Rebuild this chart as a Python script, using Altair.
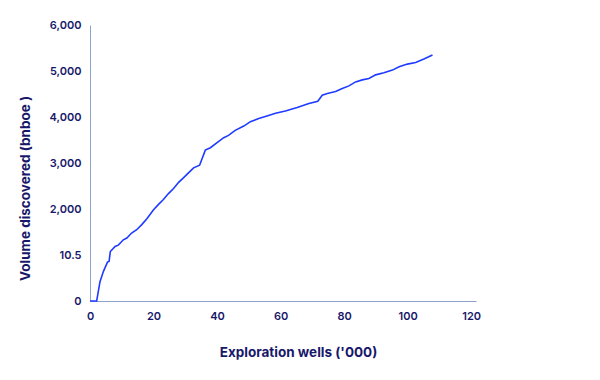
import altair as alt
import pandas as pd

wells = [0, 2.1, 3.15, 4.2, 5.5, 6.0, 6.4, 7.9, 8.9, 10.5, 11.6, 13.1, 14.7, 16.3, 17.9,
         20.0, 21.5, 23.1, 24.7, 26.3, 27.9, 29.4, 31.0, 32.6, 34.5, 36.3, 37.9, 40.0,
         42.1, 43.6, 45.7, 48.4, 50.5, 53.1, 55.7, 58.4, 61.5, 65.2, 68.9, 71.7, 73.1,
         74.7, 77.3, 79.4, 81.5, 83.6, 85.7, 87.8, 89.9, 92.5, 95.2, 97.3, 99.9, 102.5,
         105.1, 107.8]
volume = [0, 0, 420, 640, 845, 860, 1075, 1185, 1215, 1330, 1370, 1477, 1550, 1660, 1790,
          1985, 2095, 2205, 2335, 2445, 2580, 2677, 2786, 2895, 2953, 3280, 3332, 3441,
          3550, 3600, 3709, 3803, 3899, 3965, 4022, 4080, 4130, 4205, 4292, 4342, 4473,
          4510, 4553, 4619, 4676, 4763, 4807, 4837, 4916, 4960, 5019, 5091, 5150, 5186,
          5259, 5346]

y_tick_values = [0, 1000, 2000, 3000, 4000, 5000, 6000]
y_tick_labels = ["0", "10.5", "2,000", "3,000", "4,000", "5,000", "6,000"]
x_tick_values = [0, 20, 40, 60, 80, 100, 120]

df = pd.DataFrame({"wells": wells, "volume": volume})

label_expr = " : ".join(
    f"datum.value == {v} ? '{l}'" for v, l in zip(y_tick_values, y_tick_labels)
) + " : ''"

navy = "#18186a"
axis_col = "#8ea3c9"

chart = alt.Chart(df).mark_line(color="#1f3bff", strokeWidth=1.6).encode(
    x=alt.X("wells:Q",
            scale=alt.Scale(domain=[0, 121.5], nice=False),
            axis=alt.Axis(title="Exploration wells ('000)", values=x_tick_values,
                          titleX=208, titleY=44)),
    y=alt.Y("volume:Q",
            scale=alt.Scale(domain=[0, 6000], nice=False),
            axis=alt.Axis(title="Volume discovered (bnboe )", values=y_tick_values,
                          labelExpr=label_expr, titleX=-58, titleY=163)),
).properties(
    width=386, height=276,
    autosize=alt.AutoSizeParams(type="none"),
    padding={"left": 82, "top": 17, "right": 116, "bottom": 71},
).configure_view(stroke=None).configure_axis(
    grid=False, ticks=False, domainColor=axis_col, domainWidth=1,
    labelColor=navy, titleColor=navy, labelFont="Inter", titleFont="Inter",
    labelFontWeight=600, titleFontWeight=700, labelFontSize=11, titleFontSize=13.5,
    labelPadding=9, labelFlush=False,
)

chart.save("out.html", embed_options={"renderer": "svg", "actions": False})
